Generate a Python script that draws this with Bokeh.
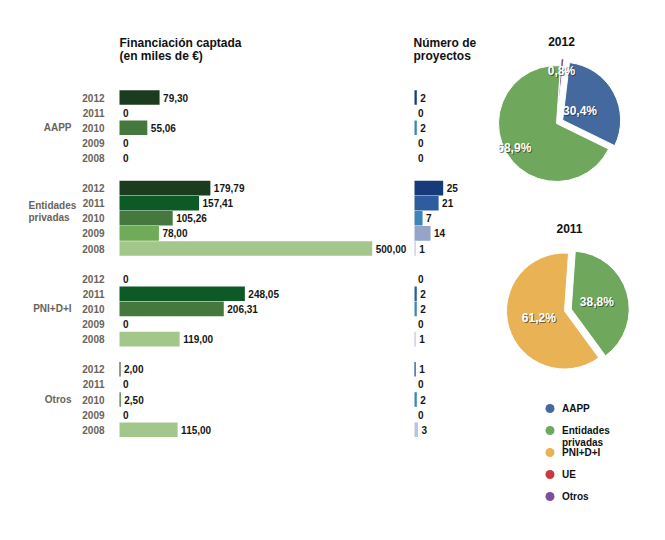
import math
from bokeh.plotting import figure
from bokeh.models import Range1d, ColumnDataSource
from bokeh.core.properties import value
from bokeh.embed import file_html
from bokeh.resources import INLINE

# ---------------- data ----------------
groups = ["AAPP", "Entidades\nprivadas", "PNI+D+I", "Otros"]
years = ["2012", "2011", "2010", "2009", "2008"]
fin_aapp = [79.30, 0, 55.06, 0, 0]
fin_ent = [179.79, 157.41, 105.26, 78.00, 500.00]
fin_pni = [0, 248.05, 206.31, 0, 119.00]
fin_otros = [2.00, 0, 2.50, 0, 115.00]
fin_ue = [0, 0, 0, 0, 0]
proj_aapp = [2, 0, 2, 0, 0]
proj_ent = [25, 21, 7, 14, 1]
proj_pni = [0, 2, 2, 0, 1]
proj_otros = [1, 0, 2, 0, 3]
pie_years = ["2012", "2011"]
legend_labels = ["AAPP", "Entidades\nprivadas", "PNI+D+I", "UE", "Otros"]
fin_title = ["Financiación captada", "(en miles de €)"]
proj_title = ["Número de", "proyectos"]

# ---------------- styles / layout ----------------
W, H = 649, 524
FIN_X0, FIN_PX = 119.0, 252.7 / 500.0
PROJ_X0, PROJ_PX = 414.0, 1.147
ROW_Y0, ROW_PX = 97.0, 15.1
GROUP_STEP = 6
fin_colors = ["#1c3c20", "#0e5a27", "#44783d", "#6fab58", "#a3c68b"]
proj_colors = ["#173a78", "#2d5d9f", "#3b86b6", "#95a5c9", "#b7c6dd"]
cat_colors = {"AAPP": "#44699e", "Entidades\nprivadas": "#6fa75d", "PNI+D+I": "#e9b355",
              "UE": "#c93a3d", "Otros": "#7f4e99"}
label_grey = "#6a6358"
SANS = value("Liberation Sans")
SMALL = "10px"
pie_centers = [(556.0, 123.0), (564.0, 310.5)]
pie_title_y = [41.0, 228.0]
PIE_R = 58.0
PIE_START = 4.0
PIE_EXPLODE = 7.0
pie_label_frac = [{"Otros": 0.79, "AAPP": 0.34, "Entidades\nprivadas": 0.84},
                  {"Entidades\nprivadas": 0.46, "PNI+D+I": 0.46}]

p = figure(width=W, height=H, output_backend="svg", toolbar_location=None,
           x_range=Range1d(0, W), y_range=Range1d(H, 0),
           min_border=0, outline_line_color=None,
           x_axis_location=None, y_axis_location=None)
p.grid.visible = False
p.background_fill_color = "white"
p.border_fill_color = "white"

p.extra_x_ranges["fin"] = Range1d((0 - FIN_X0) / FIN_PX, (W - FIN_X0) / FIN_PX)
p.extra_x_ranges["proj"] = Range1d((0 - PROJ_X0) / PROJ_PX, (W - PROJ_X0) / PROJ_PX)
p.extra_y_ranges["rows"] = Range1d((H - ROW_Y0) / ROW_PX, (0 - ROW_Y0) / ROW_PX)
p.extra_y_ranges["pie"] = Range1d(-H, 0)

fin_all = [fin_aapp, fin_ent, fin_pni, fin_otros]
proj_all = [proj_aapp, proj_ent, proj_pni, proj_otros]


def fmt(v):
    return "0" if v == 0 else ("%.2f" % v).replace(".", ",")


rows, fvals, pvals, fcol, pcol, flab, plab, ylab = [], [], [], [], [], [], [], []
for g in range(len(groups)):
    for i, yr in enumerate(years):
        rows.append(g * GROUP_STEP + i)
        fvals.append(fin_all[g][i])
        pvals.append(proj_all[g][i])
        fcol.append(fin_colors[i])
        pcol.append(proj_colors[i])
        flab.append(fmt(fin_all[g][i]))
        plab.append(str(proj_all[g][i]))
        ylab.append(yr)
src = ColumnDataSource(dict(row=rows, fin=fvals, proj=pvals, fcol=fcol, pcol=pcol,
                            flab=flab, plab=plab, ylab=ylab, yx=[104] * len(rows)))

p.hbar(y="row", left=0, right="fin", height=0.97, fill_color="fcol", line_color=None,
       source=src, x_range_name="fin", y_range_name="rows")
p.text(x="fin", y="row", text="flab", source=src, x_range_name="fin", y_range_name="rows",
       x_offset=3.5, text_baseline="middle", text_align="left", text_font=SANS,
       text_font_style="bold", text_font_size=SMALL, text_color="#151515")
p.hbar(y="row", left=0, right="proj", height=0.97, fill_color="pcol", line_color=None,
       source=src, x_range_name="proj", y_range_name="rows")
p.text(x="proj", y="row", text="plab", source=src, x_range_name="proj", y_range_name="rows",
       x_offset=3.5, text_baseline="middle", text_align="left", text_font=SANS,
       text_font_style="bold", text_font_size=SMALL, text_color="#151515")
p.text(x="yx", y="row", text="ylab", source=src, y_range_name="rows",
       text_baseline="middle", text_align="right", text_font=SANS,
       text_font_style="bold", text_font_size=SMALL, text_color=label_grey)

# group labels
for g, name in enumerate(groups):
    mid = g * GROUP_STEP + 2
    lines = name.split("\n")
    if len(lines) == 1:
        p.text(x=[71], y=[mid], text=[name], y_range_name="rows", text_baseline="middle",
               text_align="right", text_font=SANS, text_font_style="bold",
               text_font_size=SMALL, text_color=label_grey)
    else:
        p.text(x=[28] * len(lines), y=[mid - 0.88 + 0.82 * k for k in range(len(lines))],
               text=lines, y_range_name="rows", text_baseline="middle", text_align="left",
               text_font=SANS, text_font_style="bold", text_font_size=SMALL,
               text_color=label_grey)

# titles
p.text(x=[119, 119], y=[42, 55], text=fin_title, text_baseline="middle", text_align="left",
       text_font=SANS, text_font_style="bold", text_font_size="12px", text_color="#111111")
p.text(x=[413, 413], y=[42, 55], text=proj_title, text_baseline="middle", text_align="left",
       text_font=SANS, text_font_style="bold", text_font_size="12px", text_color="#111111")

# pies
order = ["Otros", "AAPP", "Entidades\nprivadas", "PNI+D+I", "UE"]
fin_by_cat = {"AAPP": fin_aapp, "Entidades\nprivadas": fin_ent, "PNI+D+I": fin_pni,
              "UE": fin_ue, "Otros": fin_otros}
for k, yr in enumerate(pie_years):
    yi = years.index(yr)
    vals = [fin_by_cat[c][yi] for c in order]
    tot = sum(vals)
    cx, cy = pie_centers[k]
    largest = order[vals.index(max(vals))]
    phi = PIE_START
    xs, ys, sa, ea, cols, lx, ly, lt = [], [], [], [], [], [], [], []
    for c, v in zip(order, vals):
        if v <= 0:
            continue
        span = 360.0 * v / tot
        midp = math.radians(phi + span / 2)
        ex = 0.0 if c == largest else PIE_EXPLODE
        dx, dy = math.sin(midp), math.cos(midp)
        xs.append(cx + ex * dx)
        ys.append(-cy + ex * dy)
        sa.append(math.radians(90 - (phi + span)))
        ea.append(math.radians(90 - phi))
        cols.append(cat_colors[c])
        rr = ex + pie_label_frac[k][c] * PIE_R
        lx.append(cx + rr * dx)
        ly.append(-cy + rr * dy)
        lt.append(("%.1f" % (100.0 * v / tot)).replace(".", ",") + "%")
        phi += span
    p.wedge(x=xs, y=ys, radius=PIE_R, start_angle=sa, end_angle=ea, fill_color=cols,
            line_color="white", line_width=1, y_range_name="pie")
    p.text(x=lx, y=ly, text=lt, y_range_name="pie", x_offset=1, y_offset=1,
           text_align="center", text_baseline="middle", text_font=SANS,
           text_font_style="bold", text_font_size="12px", text_color="#222222", text_alpha=0.6)
    p.text(x=lx, y=ly, text=lt, y_range_name="pie", text_align="center",
           text_baseline="middle", text_font=SANS, text_font_style="bold",
           text_font_size="12px", text_color="white")
    p.text(x=[cx + 5], y=[pie_title_y[k]], text=[yr], text_align="center",
           text_baseline="middle", text_font=SANS, text_font_style="bold",
           text_font_size="12px", text_color="#111111")

# legend
for i, lab in enumerate(legend_labels):
    yy = 408 + 22 * i
    p.scatter(x=[549.5], y=[yy], size=9, marker="circle", fill_color=cat_colors[lab],
              line_color=None)
    lines = lab.split("\n")
    p.text(x=[561.5] * len(lines), y=[yy + 11.6 * j for j in range(len(lines))], text=lines,
           text_align="left", text_baseline="middle", text_font=SANS, text_font_style="bold",
           text_font_size="10px", text_color="#111111")

open("out.html", "w").write(file_html(p, INLINE))
